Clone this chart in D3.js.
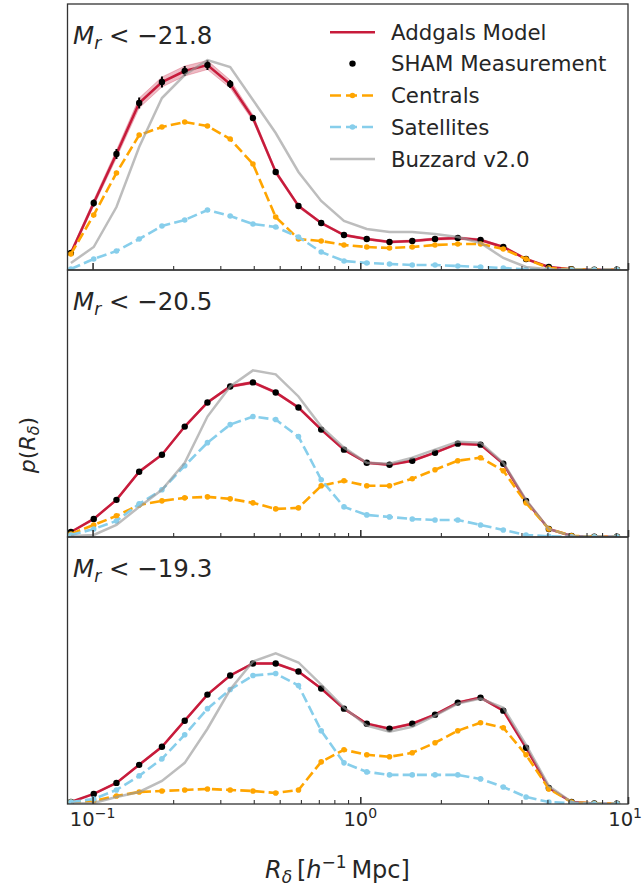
<!DOCTYPE html>
<html><head><meta charset="utf-8">
<script src="https://cdn.jsdelivr.net/npm/d3@7"></script>
<style>
body{margin:0;background:#fff}
text{font-family:"DejaVu Sans",sans-serif;fill:#262626}
</style>
</head><body>
<svg id="chart" width="643" height="890"></svg>
<script>
// ---------------- data ----------------
const R = [0.0830,0.1010,0.1228,0.1493,0.1816,0.2209,0.2686,0.3266,0.3973,0.4831,0.5876,0.7146,0.8692,1.0573,1.2857,1.5637,1.9018,2.3130,2.8131,3.4214,4.1611,5.0605,6.1540,7.4833,9.1010];
const magCuts = ["−21.8","−20.5","−19.3"];

const addgals_218 = [0.17,0.67,1.16,1.67,1.88,1.99,2.05,1.86,1.52,0.98,0.64,0.47,0.35,0.31,0.28,0.29,0.31,0.32,0.30,0.23,0.11,0.03,0.007,0.003,0.002];
const band_218    = [0.02,0.03,0.04,0.05,0.05,0.05,0.045,0.04,0.03,0.02,0.015,0.012,0.01,0.01,0.01,0.01,0.012,0.012,0.012,0.01,0.006,0.003,0.002,0.001,0.001];
const sham_218    = [0.17,0.67,1.16,1.67,1.88,1.99,2.05,1.86,1.52,0.98,0.64,0.47,0.35,0.31,0.28,0.29,0.31,0.32,0.30,0.23,0.11,0.03,0.007,0.003,0.002];
const shamErr_218 = [0.02,0.035,0.05,0.055,0.055,0.05,0.05,0.04,0.03,0.02,0.015,0.012,0.01,0.01,0.01,0.01,0.01,0.01,0.01,0.01,0.005,0.003,0.002,0.001,0.001];
const cen_218     = [0.16,0.55,0.97,1.35,1.43,1.48,1.44,1.31,1.06,0.53,0.31,0.29,0.25,0.23,0.22,0.23,0.25,0.26,0.26,0.21,0.11,0.02,0.007,0.003,0.002];
const sat_218     = [0.01,0.11,0.19,0.31,0.44,0.50,0.60,0.54,0.46,0.43,0.33,0.18,0.09,0.07,0.06,0.05,0.05,0.04,0.03,0.02,0.007,0.003,0.001,0.001,0.001];
const buz_218     = [0.07,0.23,0.63,1.23,1.72,1.95,2.10,2.03,1.70,1.37,0.98,0.69,0.49,0.41,0.38,0.38,0.36,0.33,0.27,0.12,0.03,0.007,0,0,0];

const addgals_205 = [0.05,0.18,0.37,0.65,0.82,1.10,1.34,1.50,1.54,1.44,1.29,1.07,0.87,0.74,0.72,0.76,0.84,0.93,0.92,0.73,0.36,0.08,0.01,0.003,0.002];
const band_205    = [0.005,0.008,0.01,0.012,0.012,0.012,0.012,0.012,0.012,0.012,0.012,0.01,0.01,0.01,0.01,0.01,0.01,0.01,0.01,0.01,0.006,0.003,0.001,0.001,0.001];
const sham_205    = [0.05,0.18,0.37,0.65,0.82,1.10,1.34,1.50,1.54,1.44,1.29,1.07,0.87,0.74,0.72,0.76,0.84,0.93,0.92,0.73,0.36,0.08,0.01,0.003,0.002];
const shamErr_205 = [0.005,0.008,0.01,0.012,0.012,0.012,0.012,0.012,0.012,0.012,0.012,0.01,0.01,0.01,0.01,0.01,0.01,0.01,0.01,0.01,0.006,0.003,0.001,0.001,0.001];
const cen_205     = [0.03,0.12,0.21,0.32,0.36,0.39,0.40,0.38,0.34,0.28,0.29,0.51,0.56,0.51,0.51,0.58,0.67,0.76,0.79,0.66,0.34,0.08,0.013,0.003,0.002];
const sat_205     = [0.02,0.08,0.16,0.33,0.47,0.71,0.94,1.12,1.20,1.17,1.00,0.57,0.30,0.22,0.20,0.18,0.17,0.17,0.12,0.07,0.02,0.007,0.002,0.002,0.002];
const buz_205     = [0.01,0.02,0.12,0.30,0.47,0.74,1.20,1.50,1.66,1.62,1.40,1.10,0.89,0.74,0.73,0.79,0.87,0.95,0.94,0.74,0.37,0.08,0.01,0,0];

const addgals_193 = [0.02,0.10,0.21,0.39,0.57,0.83,1.09,1.28,1.40,1.40,1.32,1.15,0.95,0.80,0.75,0.80,0.89,1.01,1.06,0.93,0.56,0.16,0.02,0.005,0.003];
const band_193    = [0.004,0.006,0.008,0.01,0.01,0.01,0.01,0.01,0.01,0.01,0.01,0.01,0.01,0.01,0.01,0.01,0.01,0.01,0.01,0.01,0.008,0.004,0.001,0.001,0.001];
const sham_193    = [0.02,0.10,0.21,0.39,0.57,0.83,1.09,1.28,1.40,1.40,1.32,1.15,0.95,0.80,0.75,0.80,0.89,1.01,1.06,0.93,0.56,0.16,0.02,0.005,0.003];
const shamErr_193 = [0.004,0.006,0.008,0.01,0.01,0.01,0.01,0.01,0.01,0.01,0.01,0.01,0.01,0.01,0.01,0.01,0.01,0.01,0.01,0.01,0.008,0.004,0.001,0.001,0.001];
const cen_193     = [0.02,0.03,0.08,0.12,0.13,0.14,0.15,0.14,0.13,0.11,0.14,0.42,0.54,0.49,0.47,0.51,0.61,0.73,0.81,0.76,0.49,0.15,0.02,0.005,0.003];
const sat_193     = [0.02,0.05,0.14,0.28,0.45,0.69,0.95,1.14,1.28,1.30,1.18,0.73,0.41,0.32,0.29,0.29,0.29,0.29,0.25,0.17,0.07,0.02,0.007,0.003,0.003];
const buz_193     = [0.005,0.01,0.07,0.12,0.23,0.41,0.75,1.14,1.42,1.50,1.41,1.19,0.96,0.78,0.72,0.77,0.88,1.00,1.05,0.96,0.59,0.18,0.02,0,0];

const majorTicks = [0.1, 1, 10];
const majorTickExp = ["−1", "0", "1"];
const minorTicks = [0.2,0.3,0.4,0.5,0.6,0.7,0.8,0.9,2,3,4,5,6,7,8,9];
const legendLabels = ["Addgals Model","SHAM Measurement","Centrals","Satellites","Buzzard v2.0"];

const panels = [
  {cut: magCuts[0], model: addgals_218, band: band_218, sham: sham_218, err: shamErr_218, cen: cen_218, sat: sat_218, buz: buz_218},
  {cut: magCuts[1], model: addgals_205, band: band_205, sham: sham_205, err: shamErr_205, cen: cen_205, sat: sat_205, buz: buz_205},
  {cut: magCuts[2], model: addgals_193, band: band_193, sham: sham_193, err: shamErr_193, cen: cen_193, sat: sat_193, buz: buz_193}
];

// ---------------- style ----------------
const RED = "#c71b3b", ORANGE = "#ffa500", BLUE = "#87ceeb", GRAY = "#999999";
const left = 67.5, right = 628;
const tops = [4, 270, 537], bottoms = [270, 537, 804];

const svg = d3.select("#chart");
const x = d3.scaleLog().domain([0.0806, 10]).range([left, right]);

panels.forEach((p, k) => {
  const y = d3.scaleLinear().domain([0, 2.66]).range([bottoms[k], tops[k]]);
  const g = svg.append("g");
  const clipId = "clip" + k;
  svg.append("defs").append("clipPath").attr("id", clipId)
    .append("rect").attr("x", left).attr("y", tops[k]).attr("width", right - left).attr("height", bottoms[k] - tops[k]);
  const body = g.append("g").attr("clip-path", `url(#${clipId})`);

  const idx = d3.range(R.length);
  const line = arr => d3.line().x(i => x(R[i])).y(i => y(arr[i]))(idx);

  body.append("path")
    .attr("d", d3.area().x(i => x(R[i])).y0(i => y(p.model[i] - p.band[i])).y1(i => y(p.model[i] + p.band[i]))(idx))
    .attr("fill", RED).attr("fill-opacity", 0.3).attr("stroke", RED).attr("stroke-opacity", 0.25).attr("stroke-width", 1);
  body.append("path").attr("d", line(p.model)).attr("fill", "none").attr("stroke", RED).attr("stroke-width", 2.5);
  body.selectAll(".eb").data(idx).join("line")
    .attr("x1", i => x(R[i])).attr("x2", i => x(R[i]))
    .attr("y1", i => y(p.sham[i] - p.err[i])).attr("y2", i => y(p.sham[i] + p.err[i]))
    .attr("stroke", "#000").attr("stroke-width", 2);
  body.selectAll(".sh").data(idx).join("circle")
    .attr("cx", i => x(R[i])).attr("cy", i => y(p.sham[i])).attr("r", 3.2).attr("fill", "#000");
  [[p.cen, ORANGE], [p.sat, BLUE]].forEach(([arr, col]) => {
    body.append("path").attr("d", line(arr)).attr("fill", "none").attr("stroke", col)
      .attr("stroke-width", 2.6).attr("stroke-dasharray", "10,4.2");
    body.selectAll(null).data(idx).join("circle")
      .attr("cx", i => x(R[i])).attr("cy", i => y(arr[i])).attr("r", 2.8).attr("fill", col);
  });
  body.append("path").attr("d", line(p.buz)).attr("fill", "none").attr("stroke", GRAY)
    .attr("stroke-opacity", 0.65).attr("stroke-width", 2.5);

  g.append("rect").attr("x", left).attr("y", tops[k]).attr("width", right - left).attr("height", bottoms[k] - tops[k])
    .attr("fill", "none").attr("stroke", "#333").attr("stroke-width", 1.3);

  const ax = g.append("g").attr("transform", `translate(0,${bottoms[k]})`);
  ax.call(d3.axisBottom(x).tickValues(majorTicks).tickSize(-7).tickFormat(""));
  const axm = g.append("g").attr("transform", `translate(0,${bottoms[k]})`);
  axm.call(d3.axisBottom(x).tickValues(minorTicks).tickSize(-4).tickFormat(""));
  ax.select(".domain").remove(); axm.select(".domain").remove();
  ax.selectAll(".tick line").attr("stroke", "#333").attr("stroke-width", 1.6);
  axm.selectAll(".tick line").attr("stroke", "#333").attr("stroke-width", 1.1);

  const t = g.append("text").attr("x", 73).attr("y", tops[k] + 40).attr("font-size", 24.5);
  t.append("tspan").attr("font-style", "italic").text("M");
  t.append("tspan").attr("font-style", "italic").attr("font-size", 17).attr("dy", 5).text("r");
  t.append("tspan").attr("dy", -5).text(" < " + p.cut);

  if (k === 2) {
    majorTicks.forEach((v, j) => {
      const last = j === majorTicks.length - 1;
      const lt = g.append("text").attr("x", last ? 642 : x(v)).attr("y", bottoms[k] + 22)
        .attr("text-anchor", last ? "end" : "middle").attr("font-size", 19.5);
      lt.append("tspan").text("10");
      lt.append("tspan").attr("font-size", 14).attr("dy", -8).text(majorTickExp[j]);
    });
  }
});

// legend
const lg = svg.append("g");
const ly = [32.3, 63.6, 95.5, 127, 159];
const lx0 = 330, lx1 = 375, lxm = 352.5;
lg.append("line").attr("x1", lx0).attr("x2", lx1).attr("y1", ly[0]).attr("y2", ly[0]).attr("stroke", RED).attr("stroke-width", 2.5);
lg.append("circle").attr("cx", lxm).attr("cy", ly[1]).attr("r", 3.2).attr("fill", "#000");
[[ORANGE, ly[2]], [BLUE, ly[3]]].forEach(([c, yy]) => {
  lg.append("line").attr("x1", lx0).attr("x2", lx1).attr("y1", yy).attr("y2", yy).attr("stroke", c)
    .attr("stroke-width", 2.6).attr("stroke-dasharray", "11,5");
  lg.append("circle").attr("cx", lxm).attr("cy", yy).attr("r", 2.8).attr("fill", c);
});
lg.append("line").attr("x1", lx0).attr("x2", lx1).attr("y1", ly[4]).attr("y2", ly[4]).attr("stroke", GRAY)
  .attr("stroke-opacity", 0.65).attr("stroke-width", 2.5);
legendLabels.forEach((s, i) => {
  lg.append("text").attr("x", 391).attr("y", ly[i] + 7.5).attr("font-size", 21.3).text(s);
});

// axis labels
const xl = svg.append("text").attr("x", 337.5).attr("y", 878).attr("text-anchor", "middle").attr("font-size", 24);
xl.append("tspan").attr("font-style", "italic").text("R");
xl.append("tspan").attr("font-style", "italic").attr("font-size", 17).attr("dy", 5).text("δ");
xl.append("tspan").attr("dy", -5).text("\u2009[");
xl.append("tspan").attr("font-style", "italic").text("h");
xl.append("tspan").attr("font-size", 17).attr("dy", -10).text("−1");
xl.append("tspan").attr("dy", 10).text("\u2009Mpc]");

const yl = svg.append("text").attr("transform", "translate(35,445) rotate(-90)").attr("text-anchor", "middle").attr("font-size", 22);
yl.append("tspan").attr("font-style", "italic").text("p");
yl.append("tspan").text("(");
yl.append("tspan").attr("font-style", "italic").text("R");
yl.append("tspan").attr("font-style", "italic").attr("font-size", 16).attr("dy", 4).text("δ");
yl.append("tspan").attr("dy", -4).text(")");
</script>
</body></html>
